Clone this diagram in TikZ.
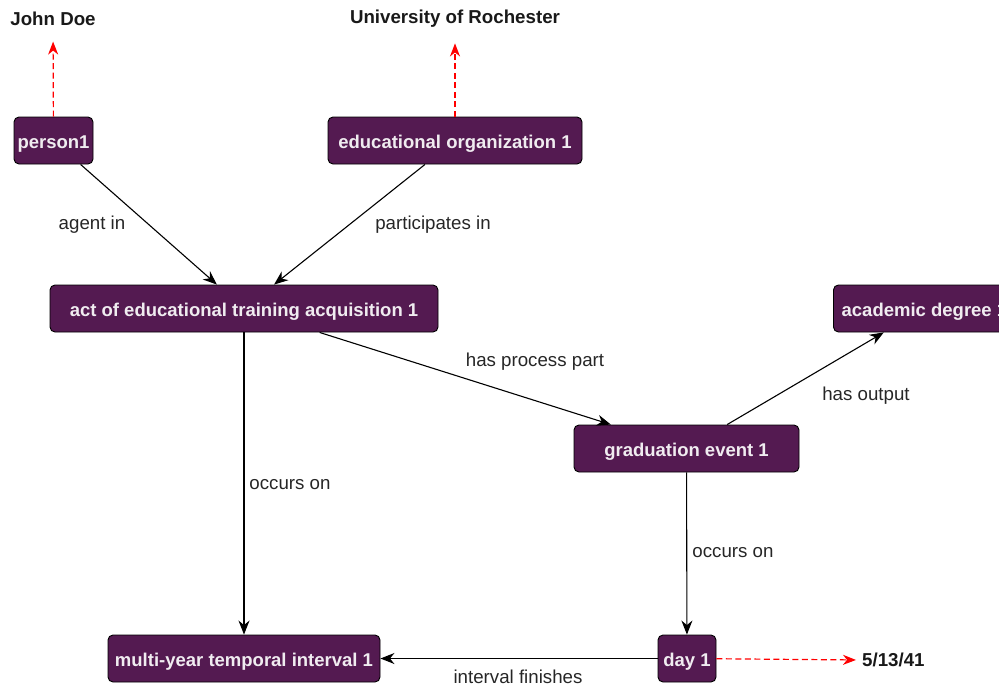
\documentclass[tikz,border=0pt]{standalone}
\usepackage{fontspec}
\setmainfont{Liberation Sans}
\usetikzlibrary{arrows.meta}
\definecolor{nodepurple}{RGB}{84,26,81}
\definecolor{nodetext}{RGB}{240,236,240}
\tikzset{
  cnode/.style={draw=black, fill=nodepurple, rounded corners=5pt, text=nodetext,
    font=\fontsize{18.5}{21}\selectfont\bfseries, minimum height=47pt, inner sep=0pt,
    text height=15pt, text depth=0pt, line width=0.9pt},
  lbl/.style={font=\fontsize{18.7}{21}\selectfont, text=black!85, inner sep=0pt},
  lit/.style={font=\fontsize{18.7}{21}\selectfont\bfseries, text=black!90, inner sep=0pt},
  arr/.style={draw=black, line width=1.1pt, -{Stealth[length=14pt,width=11pt,inset=4.5pt]}},
  redarr/.style={draw=red, line width=1.2pt, dash pattern=on 6pt off 3.5pt, -{Stealth[length=13pt,width=10pt,inset=4pt]}}
}
\begin{document}
\begin{tikzpicture}[x=1pt,y=-1pt]
\useasboundingbox (0,0) rectangle (999,686);
% nodes
\node[cnode, minimum width=79pt] (person1) at (53.5,140.5) {person1};
\node[cnode, minimum width=254pt] (eduorg) at (455,140.5) {educational organization 1};
\node[cnode, minimum width=388pt] (act) at (244,308.5) {act of educational training acquisition 1};
\node[cnode, minimum width=182pt, anchor=west] (degree) at (833,308.5) {academic degree 1};
\node[cnode, minimum width=225pt] (grad) at (686.5,448.5) {graduation event 1};
\node[cnode, minimum width=272pt] (multi) at (244,658.5) {multi-year temporal interval 1};
\node[cnode, minimum width=58pt] (day) at (687,658.5) {day 1};
% literal values
\node[lit] (johndoe) at (53,18.5) {John Doe};
\node[lit] (rochester) at (455,18.5) {University of Rochester};
\node[lit, anchor=west] (date) at (862,660) {5/13/41};
% connectors
\draw[arr] (person1) -- (act);
\draw[arr] (eduorg) -- (act);
\draw[arr] (act) -- (grad);
\draw[arr] (grad) -- (degree);
\draw[arr] (act) -- (multi);
\draw[arr] (grad) -- (day);
\draw[arr] (day) -- (multi);
\draw[redarr, shorten >=16pt] (person1) -- (johndoe);
\draw[redarr, shorten >=16pt] (eduorg) -- (rochester);
\draw[redarr, shorten >=6pt] (day) -- (date.west);
% labels
\node[lbl] (l1) at (92,225) {agent in};
\node[lbl] (l2) at (433,225) {participates in};
\node[lbl] (l3) at (535,362) {has process part};
\node[lbl] (l4) at (866,396) {has output};
\node[lbl] (l5) at (290,485) {occurs on};
\node[lbl] (l6) at (733,553) {occurs on};
\node[lbl] (l7) at (518,676.5) {interval finishes};
\end{tikzpicture}
\end{document}
